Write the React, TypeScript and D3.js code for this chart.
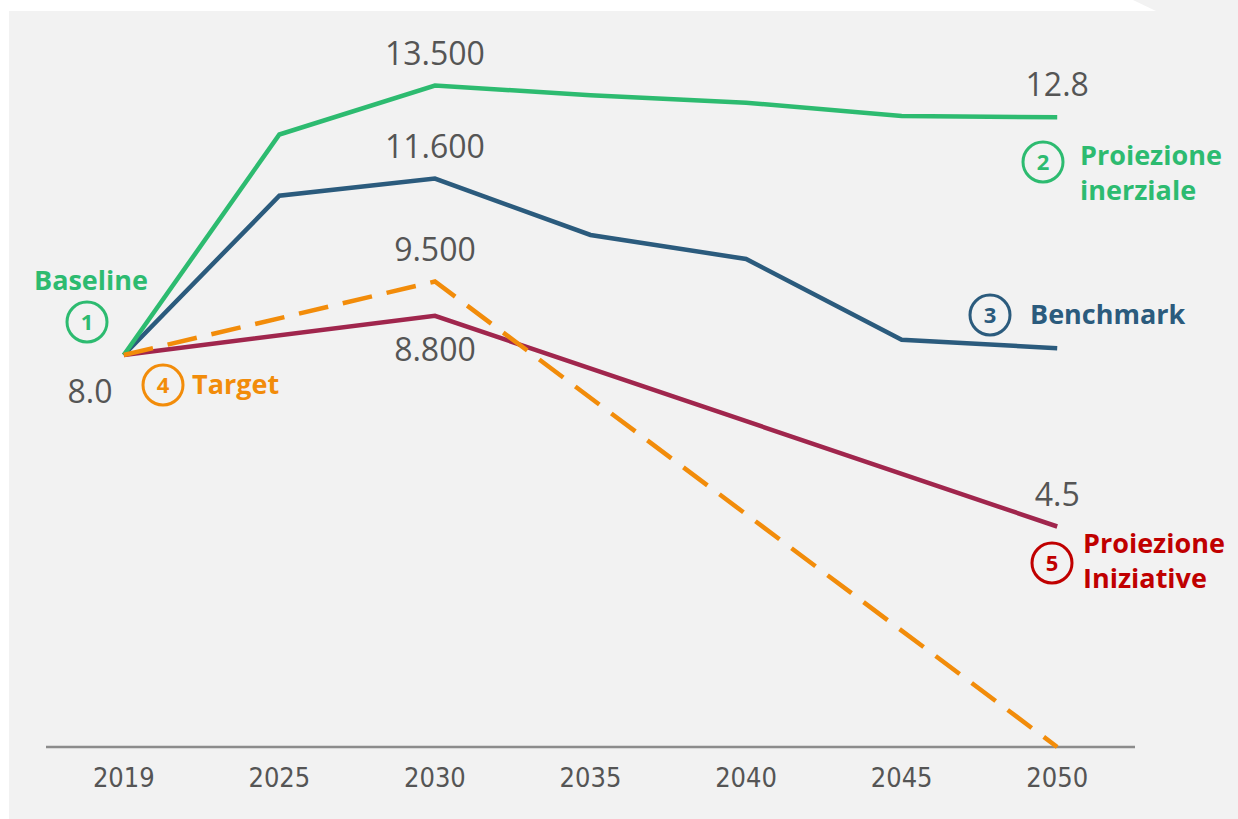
import React from "react";
import * as d3 from "d3";

const years = ["2019", "2025", "2030", "2035", "2040", "2045", "2050"];
const inerziale = [8.0, 12.5, 13.5, 13.3, 13.15, 12.88, 12.85];
const benchmark = [8.0, 11.25, 11.6, 10.45, 9.96, 8.31, 8.14];
const targetYears = ["2019", "2030", "2050"];
const target = [8.0, 9.5, 0];
const iniziativeYears = ["2019", "2030", "2050"];
const iniziative = [8.0, 8.8, 4.5];

const valueLabels = [
  { year: "2030", text: "13.500", value: 13.5 },
  { year: "2030", text: "11.600", value: 11.6 },
  { year: "2030", text: "9.500", value: 9.5 },
  { year: "2030", text: "8.800", value: 8.8 },
  { year: "2050", text: "12.8", value: 12.85 },
  { year: "2050", text: "4.5", value: 4.5 },
];

const W = 1238;
const H = 819;

const GREEN = "#2dbb70";
const BLUE = "#2b5b7d";
const ORANGE = "#f28c0a";
const CRIMSON = "#a0264d";
const RED = "#c00000";
const GREY = "#555555";

export default function App() {
  const x = d3.scalePoint<string>().domain(years).range([46, 1135]).padding(0.5);
  const y = d3.scaleLinear().domain([0, 14]).range([747, 747 - 14 * 49]);

  const line = d3
    .line<[string, number]>()
    .x((d) => x(d[0]) as number)
    .y((d) => y(d[1]));

  const zip = (ys: string[], vs: number[]) => ys.map((yy, i) => [yy, vs[i]] as [string, number]);

  const circle = (cx: number, cy: number, n: string, color: string) => (
    <g key={n}>
      <circle cx={cx} cy={cy} r={20} fill="none" stroke={color} strokeWidth={3} />
      <text
        x={cx}
        y={cy + 8}
        textAnchor="middle"
        fontFamily="'Open Sans', sans-serif"
        fontWeight={700}
        fontSize={22}
        fill={color}
      >
        {n}
      </text>
    </g>
  );

  const labelFont = { fontFamily: "'Open Sans', sans-serif", fontWeight: 700, fontSize: 27 } as const;

  return (
    <div style={{ position: "absolute", left: 0, top: 0 }}>
      <svg width={W} height={H} style={{ display: "block" }}>
        <rect x={0} y={0} width={W} height={H} fill="#ffffff" />
        <rect x={9} y={0} width={W - 9} height={H} fill="#f2f2f2" />
        <polygon points="0,0 1133,0 1156,11 0,11" fill="#ffffff" />

        {/* axis */}
        <line x1={46} x2={1135} y1={y(0)} y2={y(0)} stroke="#8c8c8c" strokeWidth={2.5} />
        {years.map((yr) => (
          <text
            key={yr}
            x={x(yr)}
            y={787}
            textAnchor="middle"
            fontFamily="'DejaVu Sans Condensed', 'Liberation Sans Narrow', sans-serif"
            fontStretch="condensed"
            fontSize={27}
            fill={GREY}
          >
            {yr}
          </text>
        ))}

        {/* lines */}
        <path d={line(zip(iniziativeYears, iniziative)) || ""} fill="none" stroke={CRIMSON} strokeWidth={4.5} />
        <path d={line(zip(years, benchmark)) || ""} fill="none" stroke={BLUE} strokeWidth={4.5} />
        <path d={line(zip(years, inerziale)) || ""} fill="none" stroke={GREEN} strokeWidth={4.5} />
        <path
          d={line(zip(targetYears, target)) || ""}
          fill="none"
          stroke={ORANGE}
          strokeWidth={4.5}
          strokeDasharray="30 15"
        />

        {/* value labels */}
        {valueLabels.map((l) => (
          <text
            key={l.text}
            x={x(l.year)}
            y={l.text === "8.800" ? y(l.value) + 45 : y(l.value) - 21}
            textAnchor="middle"
            fontFamily="'Open Sans', sans-serif"
            fontSize={32}
            fill={GREY}
          >
            {l.text}
          </text>
        ))}
        <text x={90} y={403} textAnchor="middle" fontFamily="'Open Sans', sans-serif" fontSize={32} fill={GREY}>
          8.0
        </text>

        {/* annotations */}
        <text x={91} y={290} textAnchor="middle" {...labelFont} fill={GREEN}>
          Baseline
        </text>
        {circle(87, 322, "1", GREEN)}

        {circle(163, 385, "4", ORANGE)}
        <text x={192} y={394} {...labelFont} fill={ORANGE}>
          Target
        </text>

        {circle(1043, 162, "2", GREEN)}
        <text x={1080} y={165} {...labelFont} fill={GREEN}>
          Proiezione
        </text>
        <text x={1080} y={200} {...labelFont} fill={GREEN}>
          inerziale
        </text>

        {circle(990, 315, "3", BLUE)}
        <text x={1030} y={324} {...labelFont} fill={BLUE}>
          Benchmark
        </text>

        {circle(1052, 563, "5", RED)}
        <text x={1083} y={553} {...labelFont} fill={RED}>
          Proiezione
        </text>
        <text x={1083} y={588} {...labelFont} fill={RED}>
          Iniziative
        </text>
      </svg>
    </div>
  );
}
